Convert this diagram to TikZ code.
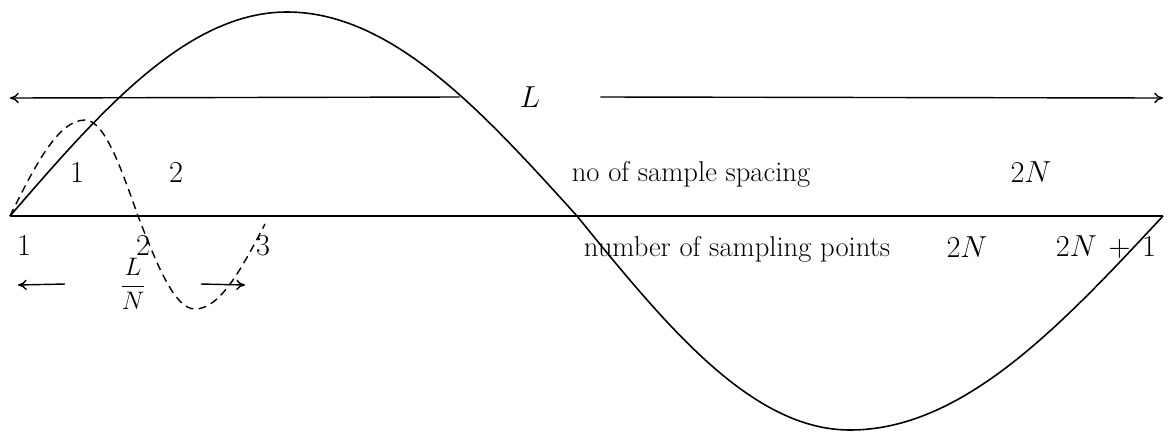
\documentclass[tikz,border=0pt]{standalone}
\usepackage{amsmath}
\usetikzlibrary{arrows.meta, positioning}

\begin{document}
\begin{tikzpicture}[x=0.02cm, y=-0.02cm,
    every node/.style={font=\fontsize{16}{18}\selectfont, inner sep=0pt},
    txt/.style={font=\fontsize{16.3}{19}\selectfont},
    arr/.style={-{To[length=5pt,width=6pt]}, line width=0.8pt},
    wave/.style={line width=0.9pt},
    samp/.style={line width=0.8pt, dash pattern=on 4.5pt off 3pt}]
    \useasboundingbox (0,0) rectangle (1175,433);
    % axis
    \coordinate (o) at (10,216);
    \coordinate (e) at (1163,216);
    \draw[wave] (o) -- (e);
    % total length
    \node (L) [minimum width=2.8cm] at (530,97) {$L$};
    \coordinate (Ll) at (10,98);
    \coordinate (Lr) at (1163,98);
    \draw[arr] (L.west) -- (Ll);
    \draw[arr] (L.east) -- (Lr);
    % signal and sampled wave
    \draw[wave] (o) sin (287,12) cos (577,216) sin (850,430) cos (e);
    \draw[samp] (o) sin (85,120) cos (138,216) sin (195,309) cos (265,224);
    % spacings
    \node (s1) at (77,173) {$1$};
    \node (s2) at (176,173) {$2$};
    \node (sp) [txt] at (691,174) {no of sample spacing};
    \node (s2N) at (1031,172) {$2N$};
    % points
    \node (p1) at (24,246) {$1$};
    \node (p2) at (143,246) {$2$};
    \node (p3) at (263,246) {$3$};
    \node (pts) [txt] at (737,249) {number of sampling points};
    \node (p2N) at (967,247) {$2N$};
    \node (p2N1) at (1106,247) {$2N\mskip3mu+\mskip3mu1$};
    % one spacing
    \node (LN) [minimum width=2.7cm, font=\fontsize{14}{16}\selectfont] at (133,284) {$\dfrac{L}{N}$};
    \coordinate (dl) at (18,285);
    \coordinate (dr) at (245,285);
    \draw[arr] (LN.west) -- (dl);
    \draw[arr] (LN.east) -- (dr);
\end{tikzpicture}
\end{document}
